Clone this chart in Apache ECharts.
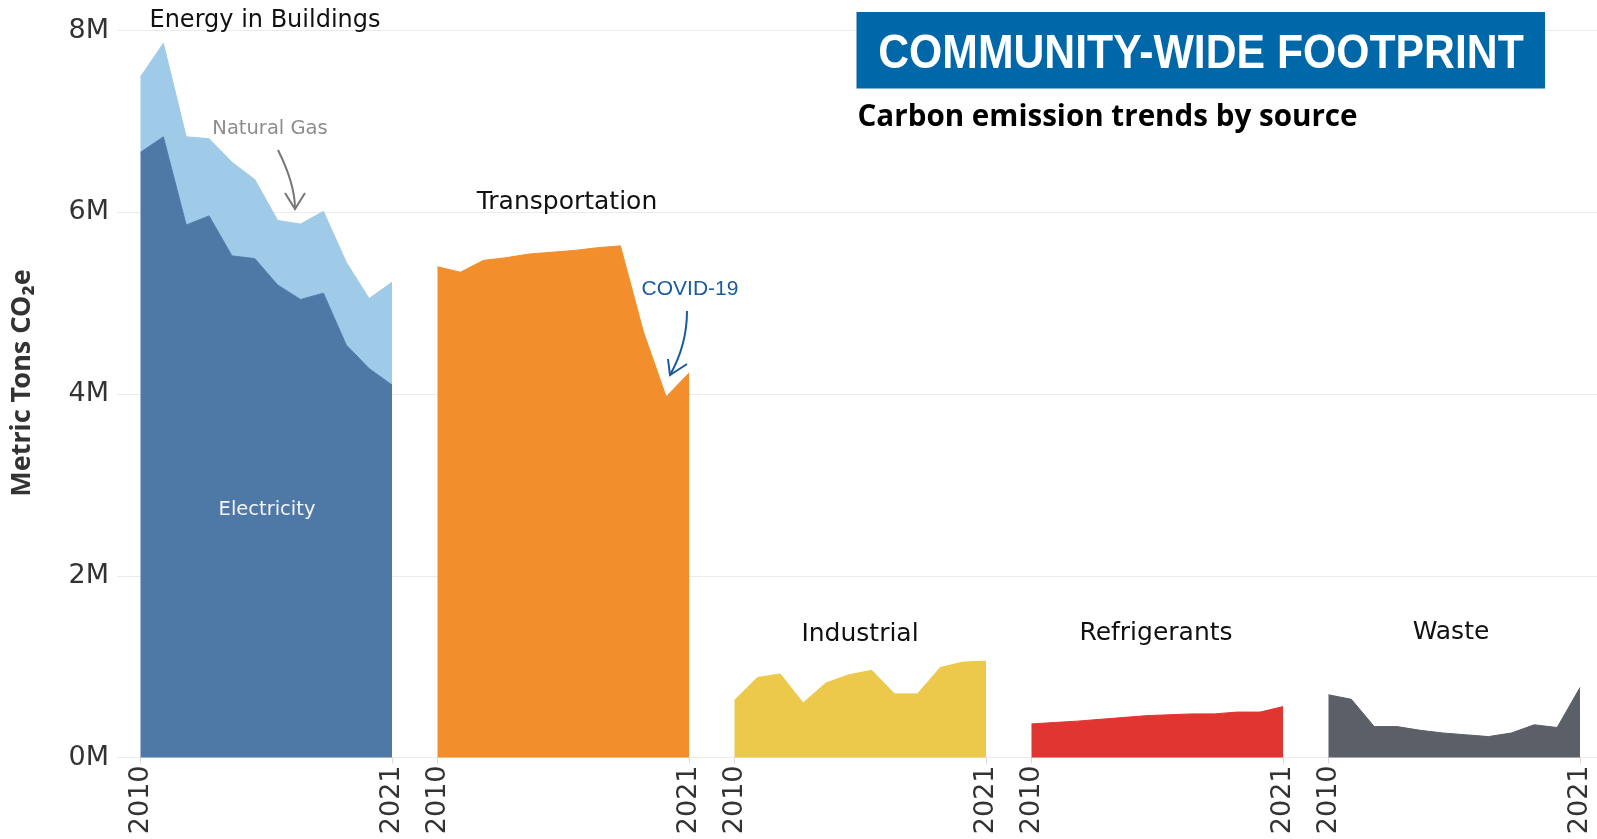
<!DOCTYPE html>
<html>
<head>
<meta charset="utf-8">
<title>Community-wide footprint</title>
<script src="https://cdn.jsdelivr.net/npm/echarts@6/dist/echarts.min.js"></script>
<style>
  html, body { margin: 0; padding: 0; background: #fff; }
  #chart { width: 1597px; height: 839px; }
</style>
</head>
<body>
<div id="chart"></div>
<script>
// values are million metric tons CO2e
var years = ['2010', '2011', '2012', '2013', '2014', '2015', '2016', '2017', '2018', '2019', '2020', '2021']
var electricity = [6.66, 6.83, 5.86, 5.96, 5.52, 5.49, 5.20, 5.04, 5.11, 4.54, 4.28, 4.10]
var naturalGas = [0.83, 1.03, 0.97, 0.85, 1.03, 0.87, 0.71, 0.83, 0.90, 0.91, 0.77, 1.13]
var transportation = [5.40, 5.34, 5.47, 5.50, 5.54, 5.56, 5.58, 5.61, 5.63, 4.69, 3.97, 4.23]
var industrial = [0.63, 0.88, 0.92, 0.60, 0.82, 0.91, 0.96, 0.70, 0.70, 0.99, 1.05, 1.06]
var refrigerants = [0.37, 0.385, 0.40, 0.42, 0.44, 0.46, 0.47, 0.48, 0.48, 0.50, 0.50, 0.56]
var waste = [0.69, 0.64, 0.34, 0.34, 0.30, 0.27, 0.25, 0.23, 0.27, 0.36, 0.33, 0.77]
var yTicks = [0, 2, 4, 6, 8]
var panelNames = ['Energy in Buildings', 'Transportation', 'Industrial', 'Refrigerants', 'Waste']

var TEXT = '#333333'
var GRID_TOP = 30.5
var GRID_BOTTOM = 81.5
var PANEL_LEFT = 140.5
var PANEL_STEP = 297
var PANEL_W = 251.5

var chart = echarts.init(document.getElementById('chart'))

var grids = [{ left: 117, right: 0, top: GRID_TOP, bottom: GRID_BOTTOM }]
var xAxes = [{ type: 'value', gridIndex: 0, show: false, min: 0, max: 1 }]
var yAxes = [{
  type: 'value',
  gridIndex: 0,
  min: yTicks[0],
  max: yTicks[yTicks.length - 1],
  interval: yTicks[1] - yTicks[0],
  axisLine: { show: false },
  axisTick: { show: false },
  axisLabel: {
    formatter: '{value}M',
    fontFamily: 'DejaVu Sans',
    fontSize: 27,
    color: TEXT,
    margin: 8
  },
  splitLine: { lineStyle: { color: '#ebebeb', width: 1.2 } }
}]

panelNames.forEach(function(name, i) {
  var idx = i + 1
  grids.push({ left: PANEL_LEFT + i * PANEL_STEP, width: PANEL_W, top: GRID_TOP, bottom: GRID_BOTTOM })
  xAxes.push({
    type: 'category',
    gridIndex: idx,
    data: years,
    boundaryGap: false,
    axisLine: { show: false },
    axisTick: { show: true, interval: years.length - 2, length: 6, lineStyle: { color: '#d9d9d9' } },
    axisLabel: {
      interval: years.length - 2,
      rotate: 90,
      fontFamily: 'DejaVu Sans',
      fontSize: 27,
      color: TEXT,
      margin: 8
    }
  })
  yAxes.push({
    type: 'value',
    gridIndex: idx,
    min: yTicks[0],
    max: yTicks[yTicks.length - 1],
    show: false,
    splitLine: { show: false }
  })
})

function area(name, data, idx, color, stack) {
  return {
    name: name,
    type: 'line',
    xAxisIndex: idx,
    yAxisIndex: idx,
    data: data,
    stack: stack,
    symbol: 'none',
    silent: true,
    lineStyle: { width: 1, color: color },
    areaStyle: { color: color, opacity: 1 }
  }
}

var series = [
  area('Electricity', electricity, 1, '#4e79a7', 'buildings'),
  area('Natural Gas', naturalGas, 1, '#a0cbe8', 'buildings'),
  area('Transportation', transportation, 2, '#f28e2b'),
  area('Industrial', industrial, 3, '#ecc94b'),
  area('Refrigerants', refrigerants, 4, '#e03531'),
  area('Waste', waste, 5, '#5b5f67')
]

// panel headings sit above each panel
var titlePos = [[265, 20.5], [567, 202.5], [860, 634.5], [1156, 633.5], [1451, 632.5]]
var titleSize = [24, 25, 25, 25, 25]
var graphics = panelNames.map(function(name, i) {
  return {
    type: 'text',
    x: titlePos[i][0],
    y: titlePos[i][1],
    style: {
      text: name, align: 'center', verticalAlign: 'middle',
      fontFamily: 'DejaVu Sans', fontSize: titleSize[i], fill: '#111'
    },
    z: 10
  }
})

graphics = graphics.concat([
  { type: 'rect', shape: { x: 856.5, y: 12, width: 688.5, height: 76.5 }, style: { fill: '#0068a9' }, z: 10 },
  {
    type: 'text', x: 1201, y: 55, scaleX: 0.89,
    style: {
      text: 'COMMUNITY-WIDE FOOTPRINT', align: 'center', verticalAlign: 'middle',
      fontFamily: 'Liberation Sans', fontWeight: 'bold', fontSize: 48, fill: '#fff'
    },
    z: 11
  },
  {
    type: 'text', x: 857.5, y: 118,
    style: {
      text: 'Carbon emission trends by source', align: 'left', verticalAlign: 'middle',
      fontFamily: 'Open Sans', fontWeight: 'bold', fontSize: 29.6, fill: '#000'
    },
    z: 10
  },
  {
    type: 'text', x: 22.5, y: 383, rotation: Math.PI / 2,
    style: {
      text: 'Metric Tons CO\u2082e', align: 'center', verticalAlign: 'middle',
      fontFamily: 'Noto Sans', fontWeight: 'bold', fontSize: 27, fill: TEXT
    },
    z: 10
  },
  {
    type: 'text', x: 270, y: 129,
    style: {
      text: 'Natural Gas', align: 'center', verticalAlign: 'middle',
      fontFamily: 'DejaVu Sans', fontSize: 19.5, fill: '#8c8c8c'
    },
    z: 10
  },
  {
    type: 'text', x: 267, y: 510,
    style: {
      text: 'Electricity', align: 'center', verticalAlign: 'middle',
      fontFamily: 'DejaVu Sans', fontSize: 19.5, fill: '#f4f4f4'
    },
    z: 10
  },
  {
    type: 'text', x: 690, y: 289,
    style: {
      text: 'COVID-19', align: 'center', verticalAlign: 'middle',
      fontFamily: 'Liberation Sans', fontSize: 21, fill: '#1a5b9c'
    },
    z: 10
  },
  // arrows
  {
    type: 'bezierCurve',
    shape: { x1: 278, y1: 150, cpx1: 295, cpy1: 184, x2: 295, y2: 209 },
    style: { stroke: '#777', lineWidth: 2, fill: null },
    z: 10
  },
  {
    type: 'polyline',
    shape: { points: [[285, 193], [295, 209], [305, 193]] },
    style: { stroke: '#777', lineWidth: 2, fill: null },
    z: 10
  },
  {
    type: 'bezierCurve',
    shape: { x1: 687, y1: 311, cpx1: 687, cpy1: 345, x2: 670, y2: 375 },
    style: { stroke: '#1a5b9c', lineWidth: 2, fill: null },
    z: 10
  },
  {
    type: 'polyline',
    shape: { points: [[668, 359], [670, 375], [687, 364]] },
    style: { stroke: '#1a5b9c', lineWidth: 2, fill: null },
    z: 10
  }
])

chart.setOption({
  animation: false,
  backgroundColor: '#fff',
  grid: grids,
  xAxis: xAxes,
  yAxis: yAxes,
  series: series,
  graphic: graphics
})
</script>
</body>
</html>
